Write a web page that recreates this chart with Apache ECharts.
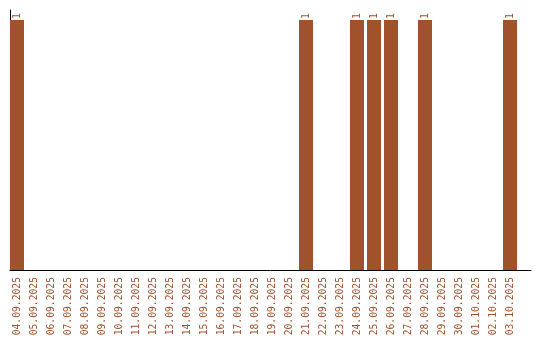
<!DOCTYPE html>
<html>
<head>
<meta charset="utf-8">
<script src="https://cdn.jsdelivr.net/npm/echarts@6/dist/echarts.min.js"></script>
<style>html,body{margin:0;padding:0;background:#fff;}#c{width:540px;height:340px;}</style>
</head>
<body>
<div id="c"></div>
<script>
var categories = ['04.09.2025','05.09.2025','06.09.2025','07.09.2025','08.09.2025','09.09.2025','10.09.2025','11.09.2025','12.09.2025','13.09.2025','14.09.2025','15.09.2025','16.09.2025','17.09.2025','18.09.2025','19.09.2025','20.09.2025','21.09.2025','22.09.2025','23.09.2025','24.09.2025','25.09.2025','26.09.2025','27.09.2025','28.09.2025','29.09.2025','30.09.2025','01.10.2025','02.10.2025','03.10.2025'];
var counts = [1,0,0,0,0,0,0,0,0,0,0,0,0,0,0,0,0,1,0,0,1,1,1,0,1,0,0,0,0,1];

var color = '#a0522d';
var chart = echarts.init(document.getElementById('c'));
chart.setOption({
  animation: false,
  grid: [
    {left: 8.5, right: 21.5, top: 10, bottom: 70},
    {left: 10, right: 9, top: 10, bottom: 70}
  ],
  xAxis: [
    {
      type: 'category', gridIndex: 0, data: categories,
      axisLine: {show: false}, axisTick: {show: false},
      axisLabel: {interval: 0, rotate: 90, color: color, fontFamily: 'DejaVu Sans Mono', fontSize: 9.7, margin: 7}
    },
    {
      type: 'value', gridIndex: 1, min: 0, max: 1,
      axisLine: {show: true, lineStyle: {color: '#000', width: 1}},
      axisTick: {show: false}, axisLabel: {show: false}, splitLine: {show: false}
    }
  ],
  yAxis: [
    {type: 'value', gridIndex: 0, min: 0, max: 1.04, show: false},
    {
      type: 'value', gridIndex: 1, min: 0, max: 1,
      axisLine: {show: true, lineStyle: {color: '#000', width: 1}},
      axisTick: {show: false}, axisLabel: {show: false}, splitLine: {show: false}
    }
  ],
  series: [{
    type: 'bar', xAxisIndex: 0, yAxisIndex: 0, data: counts,
    barWidth: 14, z: 1,
    itemStyle: {color: color},
    label: {
      show: true, position: 'top', rotate: 90, align: 'left', verticalAlign: 'middle',
      distance: 1, color: color, fontFamily: 'DejaVu Sans Mono', fontSize: 9.7,
      formatter: function (p) { return p.value ? String(p.value) : ''; }
    }
  }]
});
</script>
</body>
</html>
